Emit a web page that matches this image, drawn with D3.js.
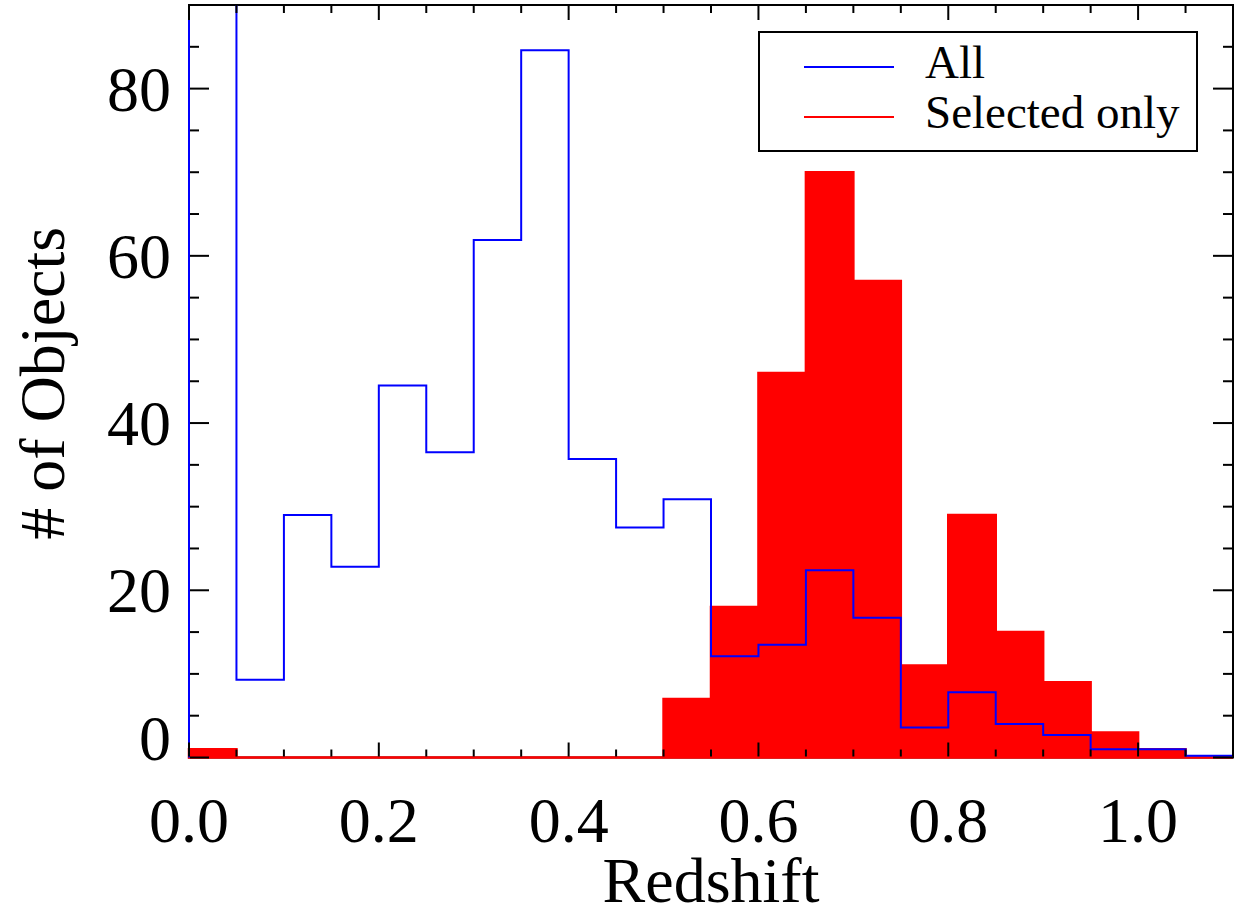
<!DOCTYPE html>
<html>
<head>
<meta charset="utf-8">
<script src="https://cdn.jsdelivr.net/npm/d3@7"></script>
<style>
  body { margin: 0; background: #fff; }
  text { font-family: "Liberation Serif", "Times New Roman", serif; fill: #000; }
</style>
</head>
<body>
<div id="chart"></div>
<script>
// histogram bins (left edges), width 0.05
const binStarts = [0.00, 0.05, 0.10, 0.15, 0.20, 0.25, 0.30, 0.35, 0.40, 0.45, 0.50,
                   0.55, 0.60, 0.65, 0.70, 0.75, 0.80, 0.85, 0.90, 0.95, 1.00, 1.05];
const binWidth = 0.05;
// "All" counts (first bin runs off the top of the plot)
const allCounts = [150, 9.3, 29.0, 22.8, 44.5, 36.5, 61.9, 84.6, 35.7, 27.5, 30.9,
                   12.1, 13.5, 22.4, 16.7, 3.6, 7.8, 4.0, 2.7, 1.0, 1.0, 0.2];
// "Selected only" counts
const selCounts = [1, 0, 0, 0, 0, 0, 0, 0, 0, 0, 7,
                   18, 46, 70, 57, 11, 29, 15, 9, 3, 1, 0];
const xTicks = [0.0, 0.2, 0.4, 0.6, 0.8, 1.0];
const yTicks = [0, 20, 40, 60, 80];
const legendItems = [
  {label: "All", color: "#0000ff"},
  {label: "Selected only", color: "#ff0000"}
];

const width = 1239, height = 915;
const plotLeft = 189, plotRight = 1233, plotTop = 5, plotBottom = 757.5;

const x = d3.scaleLinear().domain([0, 1.1]).range([plotLeft, plotRight]);
const y = d3.scaleLinear().domain([0, 90]).range([plotBottom, plotTop]);

const svg = d3.select("#chart").append("svg")
    .attr("width", width)
    .attr("height", height);

// clip only at the top so the first bin runs out of view
svg.append("defs").append("clipPath")
    .attr("id", "plotclip")
    .append("rect")
    .attr("x", plotLeft - 3).attr("y", plotTop)
    .attr("width", plotRight - plotLeft + 6).attr("height", plotBottom - plotTop + 3);

// frame first, histograms sit on top of it
svg.append("rect")
    .attr("x", plotLeft).attr("y", plotTop)
    .attr("width", plotRight - plotLeft).attr("height", plotBottom - plotTop)
    .style("fill", "none")
    .style("stroke", "#000")
    .style("stroke-width", 2);

// step outline helper
function stepPoints(counts) {
    const pts = [[x(binStarts[0]), y(0)]];
    counts.forEach((c, i) => {
        pts.push([x(binStarts[i]), y(c)]);
        pts.push([x(binStarts[i] + binWidth), y(c)]);
    });
    return pts;
}

const plot = svg.append("g").attr("clip-path", "url(#plotclip)");

// selected: filled red histogram
const selPts = stepPoints(selCounts);
selPts.push([x(binStarts[binStarts.length - 1] + binWidth), y(0)]);
plot.append("path")
    .attr("d", d3.line()(selPts) + "Z")
    .style("fill", "#ff0000")
    .style("stroke", "#ff0000")
    .style("stroke-width", 2.5);

// all: blue step outline
plot.append("path")
    .attr("d", d3.line()(stepPoints(allCounts)))
    .style("fill", "none")
    .style("stroke", "#0000ff")
    .style("stroke-width", 2);

// ticks pointing inward on all four sides
const xMinor = d3.range(0, 1.1001, 0.05);
const yMinor = d3.range(0, 90.001, 5);
const ticks = svg.append("g").style("stroke", "#000").style("stroke-width", 2);
xMinor.forEach(v => {
    const major = xTicks.some(t => Math.abs(t - v) < 1e-6);
    const len = major ? 15 : 8;
    ticks.append("line").attr("x1", x(v)).attr("x2", x(v)).attr("y1", plotBottom - 1).attr("y2", plotBottom - len);
    ticks.append("line").attr("x1", x(v)).attr("x2", x(v)).attr("y1", plotTop).attr("y2", plotTop + len);
});
yMinor.forEach(v => {
    const major = v % 20 === 0;
    const len = major ? 20 : 10;
    ticks.append("line").attr("x1", plotLeft + 1).attr("x2", plotLeft + len).attr("y1", y(v)).attr("y2", y(v));
    ticks.append("line").attr("x1", plotRight).attr("x2", plotRight - len).attr("y1", y(v)).attr("y2", y(v));
});

// tick labels
svg.append("g").selectAll("text")
    .data(xTicks)
    .enter().append("text")
    .attr("x", d => x(d))
    .attr("y", 842)
    .attr("text-anchor", "middle")
    .style("font-size", "64px")
    .text(d3.format(".1f"));

svg.append("g").selectAll("text")
    .data(yTicks)
    .enter().append("text")
    .attr("x", 171)
    .attr("y", d => d === 0 ? 760 : y(d) + 22)
    .attr("text-anchor", "end")
    .style("font-size", "64px")
    .text(d => d);

// axis titles
svg.append("text")
    .attr("x", (plotLeft + plotRight) / 2)
    .attr("y", 902)
    .attr("text-anchor", "middle")
    .style("font-size", "64px")
    .text("Redshift");

svg.append("text")
    .attr("transform", "translate(64," + ((plotTop + plotBottom) / 2 + 2) + ") rotate(-90)")
    .attr("text-anchor", "middle")
    .style("font-size", "64px")
    .text("# of Objects");

// legend
const legend = svg.append("g");
legend.append("rect")
    .attr("x", 759).attr("y", 32)
    .attr("width", 438).attr("height", 119)
    .style("fill", "#fff")
    .style("stroke", "#000")
    .style("stroke-width", 2);

legendItems.forEach((d, i) => {
    const ly = 67 + i * 50;
    legend.append("line")
        .attr("x1", 804).attr("x2", 894)
        .attr("y1", ly).attr("y2", ly)
        .style("stroke", d.color)
        .style("stroke-width", 2);
    legend.append("text")
        .attr("x", 925)
        .attr("y", ly + 11)
        .style("font-size", "47px")
        .text(d.label);
});
</script>
</body>
</html>
